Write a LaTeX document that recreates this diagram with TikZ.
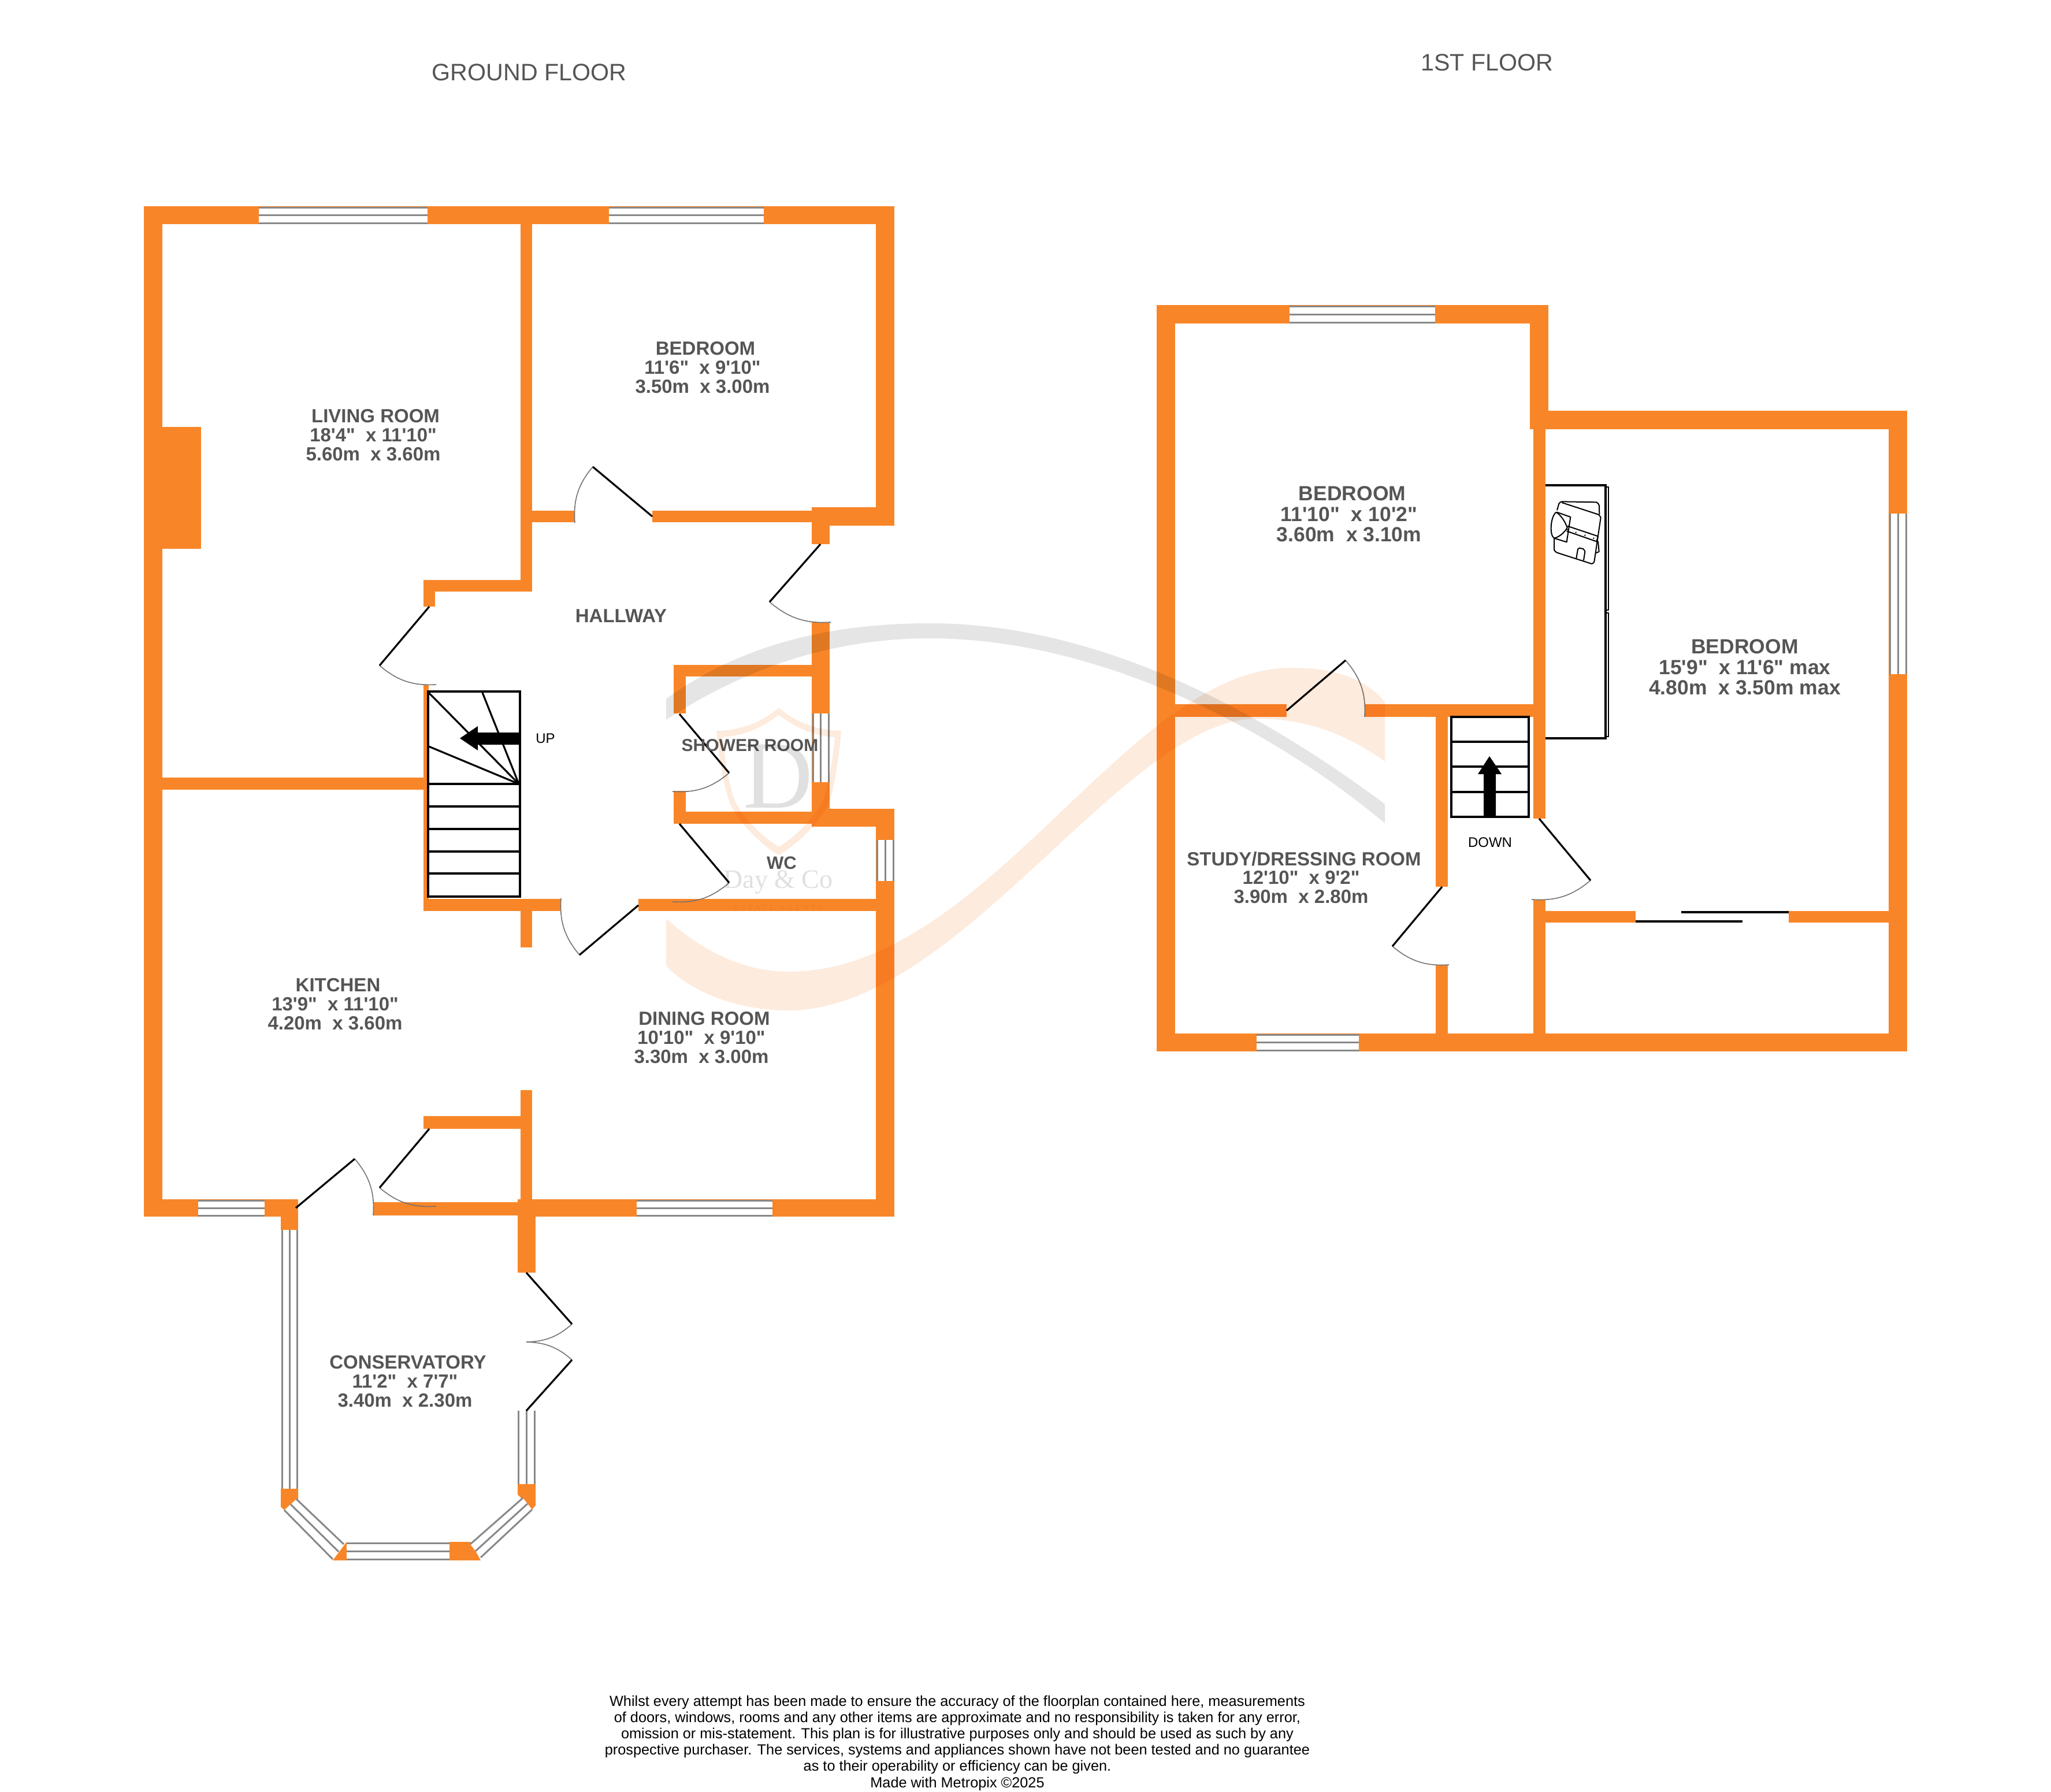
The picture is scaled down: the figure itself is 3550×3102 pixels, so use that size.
\documentclass[tikz,border=0pt]{standalone}
\usepackage{fontspec}
\setmainfont{Liberation Sans}
\newfontfamily\roomfont{Liberation Sans Bold}
\newfontfamily\markfont{Liberation Serif}
\newfontfamily\markspaced[LetterSpace=30]{Liberation Serif}
\usetikzlibrary{positioning}

\definecolor{wallorange}{HTML}{F88628}
\definecolor{labelgrey}{HTML}{555555}
\definecolor{wingrey}{HTML}{888888}
\definecolor{markorange}{HTML}{FDEBDD}
\definecolor{markgrey}{HTML}{E5E5E5}

\newcommand{\hwin}[4]{
  \fill[white] (#1,#2) rectangle (#3,#4);
  \draw[winline] (#1,#2) -- (#3,#2) (#1,{(#2+#4)/2}) -- (#3,{(#2+#4)/2}) (#1,#4) -- (#3,#4);
}
\newcommand{\vwin}[4]{
  \fill[white] (#1,#2) rectangle (#3,#4);
  \draw[winline] (#1,#2) -- (#1,#4) ({(#1+#3)/2},#2) -- ({(#1+#3)/2},#4) (#3,#2) -- (#3,#4);
}

\begin{document}
\begin{tikzpicture}[x=1pt, y=-1pt,
  wall/.style={fill=wallorange},
  winline/.style={draw=wingrey, line width=3pt},
  leaf/.style={draw=black, line width=3.2pt},
  swing/.style={draw=black!55, line width=1.6pt},
  tread/.style={draw=black, line width=3.2pt},
  shirtline/.style={draw=black, line width=2pt, line join=round},
  room/.style={font=\roomfont\fontsize{33}{32.7}\selectfont, text=labelgrey, align=center, inner sep=0pt},
  bigroom/.style={room, font=\roomfont\fontsize{35.5}{35.7}\selectfont},
  floorname/.style={font=\fontsize{41.2}{44}\selectfont, text=labelgrey, inner sep=0pt},
  stairnote/.style={font=\fontsize{24}{26}\selectfont, text=black, inner sep=0pt}]
  \useasboundingbox (0,0) rectangle (3550,3102);
  \fill[white] (0,0) rectangle (3550,3102);

  \node[floorname] (groundname) at (916,125) {GROUND FLOOR};
  \node[floorname] (firstname) at (2574,108) {1ST FLOOR};

  % ground floor walls
  \fill[wall] (249,357) rectangle (1548,388);
  \fill[wall] (249,357) rectangle (281,2106);
  \fill[wall] (1516,357) rectangle (1548,910);
  \fill[wall] (281,739) rectangle (348,950);
  \fill[wall] (901,388) rectangle (921,1024);
  \fill[wall] (921,884) rectangle (995,904);
  \fill[wall] (1129,884) rectangle (1405,904);
  \fill[wall] (1405,878) rectangle (1548,910);
  \fill[wall] (1405,878) rectangle (1436,942);
  \fill[wall] (733,1004) rectangle (921,1024);
  \fill[wall] (733,1004) rectangle (753,1050);
  \fill[wall] (281,1346) rectangle (733,1367);
  \fill[wall] (733,1185) rectangle (742,1577);
  \fill[wall] (733,1556) rectangle (971,1577);
  \fill[wall] (901,1556) rectangle (921,1640);
  \fill[wall] (1405,1077) rectangle (1436,1431);
  \fill[wall] (1166,1151) rectangle (1436,1171);
  \fill[wall] (1166,1151) rectangle (1187,1235);
  \fill[wall] (1166,1369) rectangle (1187,1426);
  \fill[wall] (1166,1405) rectangle (1436,1426);
  \fill[wall] (1405,1400) rectangle (1548,1431);
  \fill[wall] (1516,1400) rectangle (1548,2106);
  \fill[wall] (1105,1556) rectangle (1516,1577);
  \fill[wall] (901,1887) rectangle (921,2076);
  \fill[wall] (733,1932) rectangle (901,1954);
  \fill[wall] (249,2076) rectangle (516,2106);
  \fill[wall] (486,2076) rectangle (516,2129);
  \fill[wall] (646,2081) rectangle (896,2104);
  \fill[wall] (896,2076) rectangle (927,2203);
  \fill[wall] (896,2076) rectangle (1548,2106);
  \fill[wall] (486,2577) -- (516,2577) -- (516,2595) -- (492,2614) -- (486,2608) -- cycle;
  \fill[wall] (600,2669) -- (600,2701) -- (576,2701) -- cycle;
  \fill[wall] (778,2669) -- (814,2669) -- (832,2701) -- (778,2701) -- cycle;
  \fill[wall] (896,2569) -- (927,2569) -- (927,2606) -- (921,2613) -- (896,2587) -- cycle;

  % ground floor windows
  \hwin{448}{359}{740}{386}
  \hwin{1054}{359}{1322}{386}
  \hwin{343}{2078}{458}{2104}
  \hwin{1102}{2078}{1337}{2104}
  \vwin{1407}{1235}{1434}{1354}
  \vwin{1518}{1454}{1546}{1525}
  \vwin{488}{2129}{514}{2577}
  \vwin{897}{2442}{925}{2569}
  \hwin{600}{2671}{778}{2699}
  \fill[white] (513,2595) -- (492,2614) -- (576,2699) -- (595,2673) -- cycle;
  \draw[winline] (513,2595) -- (595,2673) (503,2604) -- (586,2686) (492,2614) -- (576,2699);
  \fill[white] (814,2673) -- (832,2696) -- (921,2613) -- (905,2593) -- cycle;
  \draw[winline] (814,2673) -- (905,2593) (823,2685) -- (913,2603) (832,2696) -- (921,2613);

  % ground floor doors
  \draw[swing] (1026,808) to[bend right=22] (995,905);
  \draw[leaf] (1129,894) -- (1026,808);
  \draw[swing] (657,1152) to[bend right=22] (755,1185);
  \draw[leaf] (743,1050) -- (657,1152);
  \draw[swing] (1332,1042) to[bend right=22] (1438,1077);
  \draw[leaf] (1420,942) -- (1332,1042);
  \draw[swing] (1262,1338) to[bend left=22] (1164,1370);
  \draw[leaf] (1176,1236) -- (1262,1338);
  \draw[swing] (1262,1528) to[bend left=22] (1164,1561);
  \draw[leaf] (1176,1426) -- (1262,1528);
  \draw[swing] (1003,1653) to[bend left=22] (971,1555);
  \draw[leaf] (1105,1567) -- (1003,1653);
  \draw[swing] (614,2006) to[bend left=22] (646,2104);
  \draw[leaf] (512,2091) -- (614,2006);
  \draw[swing] (657,2056) to[bend right=22] (755,2088);
  \draw[leaf] (743,1954) -- (657,2056);
  \draw[swing] (990,2292) to[bend left=20] (911,2323);
  \draw[leaf] (911,2203) -- (990,2292);
  \draw[swing] (990,2354) to[bend right=20] (911,2323);
  \draw[leaf] (911,2442) -- (990,2354);

  % ground floor stairs
  \draw[tread] (741,1197) rectangle (900,1552);
  \foreach \y in {1357,1396,1435,1474,1512}
    \draw[tread] (741,\y) -- (900,\y);
  \draw[tread] (898,1357) -- (742,1199);
  \draw[tread] (898,1357) -- (835,1199);
  \draw[tread] (898,1357) -- (742,1292);
  \fill[black] (900,1268) -- (827,1268) -- (827,1257) -- (796,1278) -- (827,1299) -- (827,1289) -- (900,1289) -- cycle;
  \node[stairnote] (upnote) at (944,1278) {UP};

  % first floor walls
  \fill[wall] (2002,528) rectangle (2680,560);
  \fill[wall] (2002,528) rectangle (2034,1820);
  \fill[wall] (2648,528) rectangle (2680,743);
  \fill[wall] (2648,711) rectangle (3301,743);
  \fill[wall] (3269,711) rectangle (3301,1820);
  \fill[wall] (2002,1789) rectangle (3301,1820);
  \fill[wall] (2654,743) rectangle (2675,1417);
  \fill[wall] (2654,1558) rectangle (2675,1789);
  \fill[wall] (2034,1219) rectangle (2227,1241);
  \fill[wall] (2362,1219) rectangle (2654,1241);
  \fill[wall] (2485,1241) rectangle (2506,1535);
  \fill[wall] (2485,1670) rectangle (2506,1789);
  \fill[wall] (2675,1577) rectangle (2831,1597);
  \fill[wall] (3096,1577) rectangle (3269,1597);

  % first floor windows
  \hwin{2232}{530}{2484}{558}
  \hwin{2175}{1791}{2352}{1818}
  \vwin{3271}{889}{3299}{1167}

  % first floor doors
  \draw[swing] (2329,1143) to[bend left=22] (2362,1241);
  \draw[leaf] (2227,1230) -- (2329,1143);
  \draw[swing] (2410,1638) to[bend right=22] (2508,1670);
  \draw[leaf] (2496,1535) -- (2410,1638);
  \draw[swing] (2753,1524) to[bend left=22] (2651,1557);
  \draw[leaf] (2664,1417) -- (2753,1524);
  \draw[leaf] (2831,1595) -- (3016,1595);
  \draw[leaf] (2910,1579) -- (3096,1579);

  % first floor stairs
  \draw[tread] (2512,1241) rectangle (2646,1414);
  \foreach \y in {1284,1327,1371}
    \draw[tread] (2512,\y) -- (2646,\y);
  \fill[black] (2568,1414) -- (2568,1340) -- (2558,1340) -- (2578,1309) -- (2599,1340) -- (2589,1340) -- (2589,1414) -- cycle;
  \node[stairnote] (downnote) at (2579,1458) {DOWN};

  % wardrobe with shirt
  \draw[line width=3.4pt] (2675,840) -- (2779,840) -- (2779,1278) -- (2675,1278);
  \draw[line width=2.4pt] (2779,843) -- (2784,843) -- (2784,1056) -- (2779,1056);
  \draw[line width=2.4pt] (2779,1061) -- (2784,1061) -- (2784,1275) -- (2779,1275);
  \begin{scope}[shift={(2640,820)}, x=0.3333pt, y=-0.3333pt]
    \draw[shirtline] (165,190) -- (175,155) to[bend left=20] (190,145) -- (370,148) to[bend left=20] (384,165) -- (385,212);
    \draw[shirtline] (378,350) -- (383,405) -- (367,412);
    \draw[shirtline] (190,150) -- (380,212) to[bend left=15] (392,228) -- (358,458) to[bend left=20] (345,468) -- (165,410) to[bend left=20] (150,395) -- (150,335);
    \draw[shirtline] (165,200) -- (235,225) -- (215,355) -- (150,335);
    \draw[shirtline] (160,200) .. controls (130,225) and (125,320) .. (150,335) .. controls (175,330) and (205,305) .. (218,280) .. controls (205,245) and (185,215) .. (160,200);
    \draw[shirtline] (220,272) -- (378,325) -- (370,352) -- (215,298);
    \foreach \dotx/\doty in {218/290,263/305,310/320,355/335}
      \fill (\dotx,\doty) circle (4);
    \draw[shirtline] (265,440) -- (273,392) to[bend left=20] (280,386) -- (300,390) to[bend left=20] (310,405) -- (303,450);
  \end{scope}

  % room labels
  \node[room] (livinglabel) at (646,753) {\hspace*{8pt}LIVING ROOM\\18'4"~ x 11'10"\\5.60m~ x 3.60m};
  \node[room] (bedlabel) at (1216,636) {\hspace*{10pt}BEDROOM\\11'6"~ x 9'10"\\3.50m~ x 3.00m};
  \node[room] (halllabel) at (1075,1066) {HALLWAY};
  \node[room, font=\roomfont\fontsize{30}{32}\selectfont] (showerlabel) at (1298,1290) {SHOWER ROOM};
  \node[room, font=\roomfont\fontsize{31}{32}\selectfont] (wclabel) at (1353,1494) {WC};
  \node[room] (kitchenlabel) at (580,1738) {\hspace*{10pt}KITCHEN\\13'9"~ x 11'10"\\4.20m~ x 3.60m};
  \node[room] (dininglabel) at (1214,1796) {\hspace*{10pt}DINING ROOM\\10'10"~ x 9'10"\\3.30m~ x 3.00m};
  \node[room] (conservlabel) at (701,2391) {\hspace*{10pt}CONSERVATORY\\11'2"~ x 7'7"\\3.40m~ x 2.30m};
  \node[bigroom] (bedtwolabel) at (2335,890) {\hspace*{11pt}BEDROOM\\11'10"~ x 10'2"\\3.60m~ x 3.10m};
  \node[bigroom] (bedthreelabel) at (3020,1155) {BEDROOM\\15'9"~ x 11'6" max\\4.80m~ x 3.50m max};
  \node[room] (studylabel) at (2252,1519) {\hspace*{10pt}STUDY/DRESSING ROOM\\12'10"~ x 9'2"\\3.90m~ x 2.80m};

  % watermark
  \begin{scope}[blend mode=multiply]
    \fill[markgrey] (1153,1210) .. controls (1290,1110) and (1450,1079) .. (1610,1079) .. controls (1900,1079) and (2180,1230) .. (2397,1392) -- (2397,1425) .. controls (2200,1260) and (1900,1105) .. (1610,1105) .. controls (1450,1105) and (1300,1150) .. (1153,1246) -- cycle;
    \fill[markorange] (1153,1590) .. controls (1220,1650) and (1290,1682) .. (1365,1682) .. controls (1709,1682) and (1950,1156) .. (2235,1156) .. controls (2300,1156) and (2360,1170) .. (2397,1215) -- (2397,1318) .. controls (2330,1270) and (2260,1244) .. (2175,1244) .. controls (1947,1244) and (1660,1749) .. (1365,1749) .. controls (1280,1749) and (1200,1720) .. (1153,1672) -- cycle;
    \fill[markorange, even odd rule] (1348,1225) .. controls (1320,1250) and (1280,1265) .. (1240,1265) .. controls (1245,1320) and (1255,1370) .. (1264,1392) .. controls (1280,1425) and (1320,1465) .. (1348,1480) .. controls (1376,1465) and (1418,1425) .. (1434,1392) .. controls (1443,1370) and (1451,1320) .. (1456,1265) .. controls (1416,1265) and (1376,1250) .. (1348,1225) -- cycle
      (1348,1237) .. controls (1320,1260) and (1285,1274) .. (1251,1276) .. controls (1255,1320) and (1263,1365) .. (1272,1386) .. controls (1288,1420) and (1325,1452) .. (1348,1466) .. controls (1371,1452) and (1408,1420) .. (1424,1386) .. controls (1433,1365) and (1441,1320) .. (1445,1276) .. controls (1411,1274) and (1376,1260) .. (1348,1237) -- cycle;
    \node[text=black!12, font=\markfont\fontsize{167}{170}\selectfont, inner sep=0pt] (markletter) at (1347,1344) {D};
    \node[text=black!12, font=\markfont\fontsize{46}{48}\selectfont, inner sep=0pt] (markname) at (1347,1527) {Day \& Co};
    \node[text=black!5, font=\markspaced\fontsize{14}{16}\selectfont, inner sep=0pt] (markline) at (1347,1571) {ESTATE AGENTS};
  \end{scope}

  % disclaimer
  \node[font=\fontsize{25.3}{28.2}\selectfont, align=center, inner sep=0pt] (disclaimer) at (1657,3017) {Whilst every attempt has been made to ensure the accuracy of the floorplan contained here, measurements\\of doors, windows, rooms and any other items are approximate and no responsibility is taken for any error,\\omission or mis-statement. This plan is for illustrative purposes only and should be used as such by any\\prospective purchaser. The services, systems and appliances shown have not been tested and no guarantee\\as to their operability or efficiency can be given.\\Made with Metropix ©2025};
\end{tikzpicture}
\end{document}
